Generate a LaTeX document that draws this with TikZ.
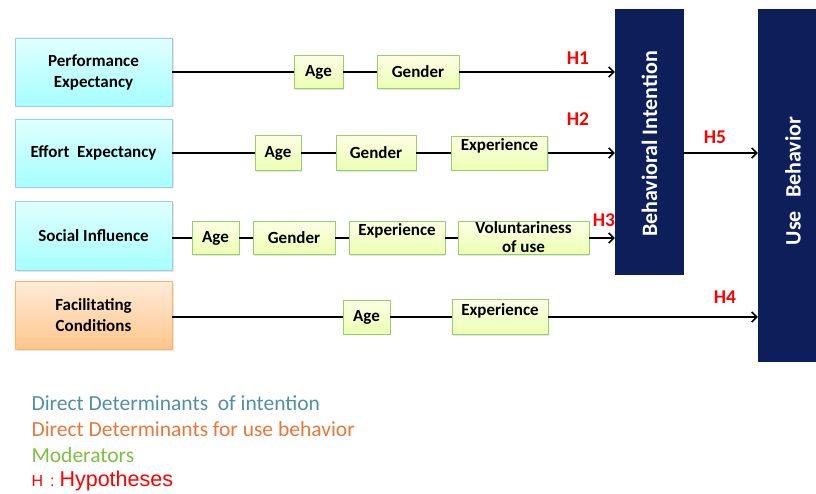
\documentclass[tikz,border=0pt]{standalone}
\usepackage{fontspec}
\setmainfont{Carlito}
\newfontfamily\arialfont{Liberation Sans}
\usetikzlibrary{arrows.meta,shadows}

\definecolor{navy}{HTML}{0C1F5B}
\definecolor{detblue}{HTML}{4F8FA9}
\definecolor{detorange}{HTML}{E8773A}
\definecolor{modgreen}{HTML}{7DBF3F}

\begin{document}
\begin{tikzpicture}[x=1pt,y=-1pt,
  every node/.style={font=\bfseries\fontsize{17}{18}\selectfont},
  box/.style={minimum width=157,minimum height=68,align=center,inner sep=2,
    font=\bfseries\fontsize{17}{21}\selectfont,
    drop shadow={opacity=0.2,shadow xshift=1.5pt,shadow yshift=-1.5pt}},
  intent/.style={box,draw=cyan!60!black!40,top color=cyan!12,bottom color=cyan!35},
  usedet/.style={box,draw=orange!60,top color=orange!15,bottom color=orange!45},
  mod/.style={draw=green!40!olive!60,top color=green!8!yellow!10,bottom color=green!25!yellow!30,
    minimum height=33,inner sep=2,align=center,
    drop shadow={opacity=0.2,shadow xshift=1.2pt,shadow yshift=-1.2pt}},
  toptext/.style={text height=11pt,text depth=15pt},
  dv/.style={fill=navy,text=white,font=\bfseries\fontsize{22}{24}\selectfont},
  hyp/.style={text=red,font=\bfseries\fontsize{19.5}{21}\selectfont},
  legend/.style={anchor=west,font=\fontsize{21.5}{23}\selectfont},
  link/.style={line width=1.6pt},
  arr/.style={link,-{Straight Barb[length=5pt,width=10pt]}}]
\useasboundingbox (0,0) rectangle (816,494);

\node[dv,minimum width=69,minimum height=266] (bi) at (649.5,142) {};
\node[dv,rotate=90] at (649.5,144) {Behavioral Intention};
\node[dv,minimum width=58,minimum height=353] (ub) at (787,185.5) {};
\node[dv,rotate=90] at (793,181) {Use\hspace{0.6em}Behavior};

\node[intent] (pe) at (93.5,72) {Performance\\Expectancy};
\node[intent] (ee) at (93.5,153) {Effort~ Expectancy};
\node[intent,minimum height=69] (si) at (93.5,236) {Social Influence};
\node[usedet] (fc) at (93.5,315) {Facilitating\\Conditions};

\node[mod,minimum width=49] (age1) at (318.5,72) {Age};
\node[mod,minimum width=82] (gen1) at (418,72) {Gender};

\node[mod,minimum width=46,minimum height=35] (age2) at (278,153) {Age};
\node[mod,minimum width=80,minimum height=35] (gen2) at (376,153) {Gender};
\node[mod,toptext,minimum width=96,minimum height=34] (exp2) at (499.5,153) {Experience};

\node[mod,minimum width=47] (age3) at (215.5,238) {Age};
\node[mod,minimum width=82] (gen3) at (294,238) {Gender};
\node[mod,toptext,minimum width=96] (exp3) at (397,238) {Experience};
% second line hangs over the lower edge
\node[mod,minimum width=131,inner sep=0,text height=31pt,text depth=2pt,
  font=\bfseries\fontsize{17}{19}\selectfont] (vol3) at (523.5,238) {Voluntariness\\of use};

\node[mod,minimum width=47,minimum height=34] (age4) at (366.5,317) {Age};
\node[mod,toptext,minimum width=96,minimum height=35] (exp4) at (500,317) {Experience};

\draw[link] (pe) -- (age1) (age1) -- (gen1);
\draw[arr] (gen1.east) -- (gen1.east -| bi.west);
\draw[link] (ee) -- (age2) (age2) -- (gen2) (gen2) -- (exp2);
\draw[arr] (exp2.east) -- (exp2.east -| bi.west);
\draw[link] (si.east |- age3) -- (age3) (age3) -- (gen3) (gen3) -- (exp3) (exp3) -- (vol3);
\draw[arr] (vol3.east) -- (vol3.east -| bi.west);
\draw[link] (fc.east |- age4) -- (age4) (age4) -- (exp4);
\draw[arr] (exp4.east) -- (exp4.east -| ub.west);
\draw[arr] (exp2.east -| bi.east) -- (exp2.east -| ub.west);

\node[hyp] at (578,58) {H1};
\node[hyp] at (578,119) {H2};
\node[hyp] at (604,220) {H3};
\node[hyp] at (725,297) {H4};
\node[hyp] at (715,137) {H5};

\node[legend,text=detblue] at (28,403) {Direct Determinants\ \ of intention};
\node[legend,text=detorange] at (28,429) {Direct Determinants for use behavior};
\node[legend,text=modgreen] at (28,455) {Moderators};
\node[legend,text=red] at (28,481) {\arialfont\fontsize{16}{17}\selectfont H\hspace{7pt}:\hspace{5pt}\fontsize{21.5}{23}\selectfont Hypotheses};
\end{tikzpicture}
\end{document}
